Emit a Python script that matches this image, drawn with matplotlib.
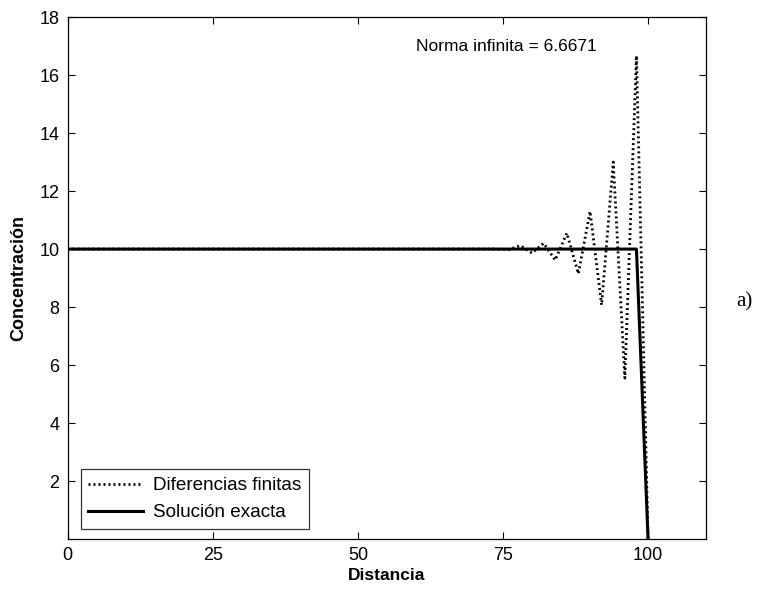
import matplotlib
matplotlib.use('Agg')
import matplotlib.pyplot as plt
import numpy as np

# grid points (dx = 2) and concentration profiles
distancia = np.arange(0, 101, 2)
dif_finitas = [10.0, 10.0, 10.0, 10.0, 10.0, 10.0, 10.0, 10.0, 10.0, 10.0,
               10.0, 10.0, 10.0, 10.0, 10.0, 10.0, 10.0, 10.0, 10.0, 10.0,
               10.0, 10.0, 10.0, 10.0, 10.0, 10.0, 10.0, 10.0, 10.0, 10.0,
               10.0, 10.0, 10.0, 10.0, 10.0, 10.0, 10.0, 10.0, 9.98, 10.12,
               9.86, 10.2, 9.62, 10.55, 9.15, 11.3, 8.07, 13.0, 5.55, 16.6671,
               0.0]
sol_exacta = [10.0, 10.0, 10.0, 10.0, 10.0, 10.0, 10.0, 10.0, 10.0, 10.0,
              10.0, 10.0, 10.0, 10.0, 10.0, 10.0, 10.0, 10.0, 10.0, 10.0,
              10.0, 10.0, 10.0, 10.0, 10.0, 10.0, 10.0, 10.0, 10.0, 10.0,
              10.0, 10.0, 10.0, 10.0, 10.0, 10.0, 10.0, 10.0, 10.0, 10.0,
              10.0, 10.0, 10.0, 10.0, 10.0, 10.0, 10.0, 10.0, 10.0, 10.0,
              0.0]
norma = max(abs(a - b) for a, b in zip(dif_finitas, sol_exacta))

plt.rcParams['font.family'] = ['Liberation Sans', 'DejaVu Sans']

fig = plt.figure(figsize=(7.7, 5.91), dpi=100)
ax = fig.add_axes([0.088, 0.088, 0.829, 0.883])

ax.plot(distancia, dif_finitas, color='black', lw=2.0,
        linestyle=(0, (0.7, 1.1)), label='Diferencias finitas')
ax.plot(distancia, sol_exacta, color='black', lw=2.2, label='Solución exacta')

ax.set_xlim(0, 110)
ax.set_ylim(0, 18)
ax.set_xticks([0, 25, 50, 75, 100])
ax.set_yticks(np.arange(2, 19, 2))
ax.tick_params(direction='in', length=5, width=0.8, top=True, right=True,
               labelsize=13, pad=6)
for s in ax.spines.values():
    s.set_linewidth(0.9)

ax.set_xlabel('Distancia', fontsize=12.5, fontweight='bold', labelpad=3)
ax.set_ylabel('Concentración', fontsize=13, fontweight='bold', labelpad=9)

ax.text(60, 17.0, f'Norma infinita = {norma:.4f}', fontsize=12.5,
        ha='left', va='center')

leg = ax.legend(loc='lower left', bbox_to_anchor=(0.02, 0.019), fontsize=13.6,
                frameon=True, fancybox=False, edgecolor='black',
                handlelength=2.9, handletextpad=0.5, borderpad=0.42,
                labelspacing=0.5, borderaxespad=0)
leg.get_frame().set_linewidth(0.9)

fig.text(0.967, 0.49, 'a)', fontsize=15, family='Liberation Serif',
         ha='center', va='center')

fig.savefig('out.png', dpi=100)
